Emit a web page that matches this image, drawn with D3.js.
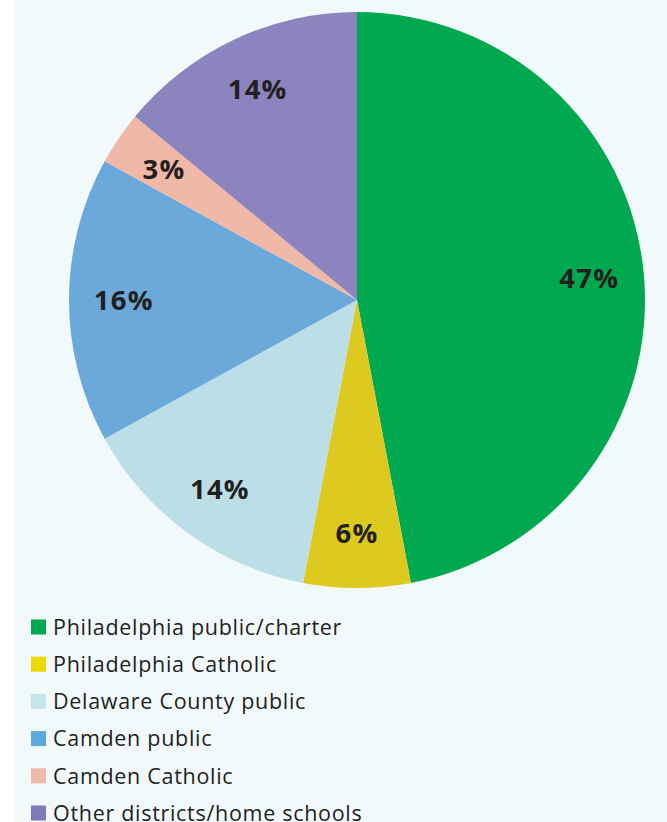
<!DOCTYPE html>
<html>
<head>
<meta charset="utf-8">
<script src="https://cdn.jsdelivr.net/npm/d3@7"></script>
<style>
  html, body { margin: 0; padding: 0; background: #ffffff; }
  svg { display: block; }
</style>
</head>
<body>
<svg id="chart" width="667" height="822"></svg>
<script>
const categories = [
  "Philadelphia public/charter",
  "Philadelphia Catholic",
  "Delaware County public",
  "Camden public",
  "Camden Catholic",
  "Other districts/home schools"
];
const values = [47, 6, 14, 16, 3, 14];
const sliceColors = ["#00a94f", "#ddc920", "#bcdfe7", "#6aa9da", "#f0b8a6", "#8b84be"];
const swatchColors = ["#00a94f", "#ebd900", "#c4e5ec", "#5aabdc", "#efb9aa", "#7e79b9"];

const W = 667, H = 822;
const svg = d3.select("#chart");

svg.append("rect").attr("x", 15).attr("y", 0).attr("width", W - 15).attr("height", H).attr("fill", "#f1f9fb");

const cx = 357, cy = 300, R = 288;
const g = svg.append("g").attr("transform", `translate(${cx},${cy})`);

const pie = d3.pie().sort(null).value(d => d.v);
const data = categories.map((c, i) => ({ c, v: values[i], i }));
const arcs = pie(data);
const arc = d3.arc().innerRadius(0).outerRadius(R);
const labelArc = d3.arc().innerRadius(R * 0.81).outerRadius(R * 0.81);

g.selectAll("path").data(arcs).join("path")
  .attr("d", arc)
  .attr("fill", d => sliceColors[d.data.i]);

g.selectAll("text").data(arcs).join("text")
  .attr("transform", d => {
    const [x, y] = labelArc.centroid(d);
    return `translate(${x},${y})`;
  })
  .attr("text-anchor", "middle")
  .attr("dy", "0.36em")
  .attr("font-family", "'Open Sans', sans-serif")
  .attr("font-weight", 700)
  .attr("font-size", 27.5)
  .attr("letter-spacing", 1.2)
  .attr("fill", "#231f20")
  .text(d => d.data.v + "%");

const legend = svg.append("g");
const rowY = d3.scalePoint().domain(categories).range([627, 813]);
const items = legend.selectAll("g").data(categories).join("g")
  .attr("transform", d => `translate(31,${rowY(d)})`);
items.append("rect").attr("x", 0).attr("y", -7.5).attr("width", 15).attr("height", 15)
  .attr("fill", (d, i) => swatchColors[i]);
items.append("text").attr("x", 22).attr("dy", "0.36em")
  .attr("font-family", "'Open Sans', sans-serif")
  .attr("font-size", 21.5)
  .attr("letter-spacing", 0.7)
  .attr("fill", "#231f20")
  .text(d => d);
</script>
</body>
</html>
